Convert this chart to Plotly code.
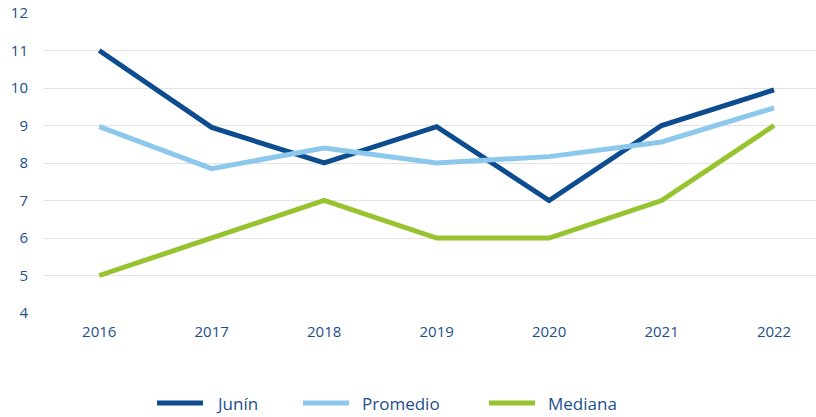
import plotly.graph_objects as go

years = ["2016", "2017", "2018", "2019", "2020", "2021", "2022"]
junin = [11.0, 8.95, 8.0, 8.97, 7.0, 9.0, 9.95]
promedio = [8.97, 7.85, 8.4, 8.0, 8.17, 8.56, 9.47]
mediana = [5.0, 6.0, 7.0, 6.0, 6.0, 7.0, 9.0]
y_ticks = [4, 5, 6, 7, 8, 9, 10, 11, 12]

series = [("Junín", junin, "#0D4C8E"),
          ("Promedio", promedio, "#8CC7EC"),
          ("Mediana", mediana, "#97C330")]

txt = "#1B4F8E"
FW, FH = 816, 417
fig = go.Figure()
for name, vals, col in series:
    fig.add_trace(go.Scatter(x=years, y=vals, name=name, mode="lines",
                             line=dict(color=col, width=5, shape="linear"),
                             showlegend=False, hoverinfo="x+y+name"))

# plot box in pixels
L, W, T, H = 43, 773, 13, 300
def px(p): return (p - L) / W
def py(q): return (T + H - q) / H
leg_x = [157, 303, 489]
for (name, vals, col), x0 in zip(series, leg_x):
    fig.add_shape(type="line", xref="paper", yref="paper",
                  x0=px(x0), x1=px(x0 + 46), y0=py(403), y1=py(403),
                  line=dict(color=col, width=5))
    fig.add_annotation(text=name, xref="paper", yref="paper",
                       x=px(x0 + 57), y=py(403), xanchor="left", yanchor="middle",
                       showarrow=False, font=dict(size=17, color=txt))

fig.update_layout(
    width=FW, height=FH,
    margin=dict(l=L, r=FW - L - W, t=T, b=FH - T - H, autoexpand=False),
    plot_bgcolor="white", paper_bgcolor="white",
    font=dict(family="Open Sans", size=15, color=txt),
    showlegend=False,
    xaxis=dict(type="category", range=[-0.5, 6.373], showgrid=False, showline=False,
               zeroline=False, ticks="", automargin=False,
               tickfont=dict(size=15, color=txt), ticklabelstandoff=8),
    yaxis=dict(range=[4, 12], tickvals=y_ticks, showgrid=True, gridcolor="#E3E3E3",
               gridwidth=1, zeroline=False, showline=False, ticks="", automargin=False,
               tickfont=dict(size=15, color=txt), ticklabelstandoff=14),
)
fig.write_html("out.html", config={"displayModeBar": False},
               post_script="document.body.style.margin='0';document.body.style.overflow='hidden';")
